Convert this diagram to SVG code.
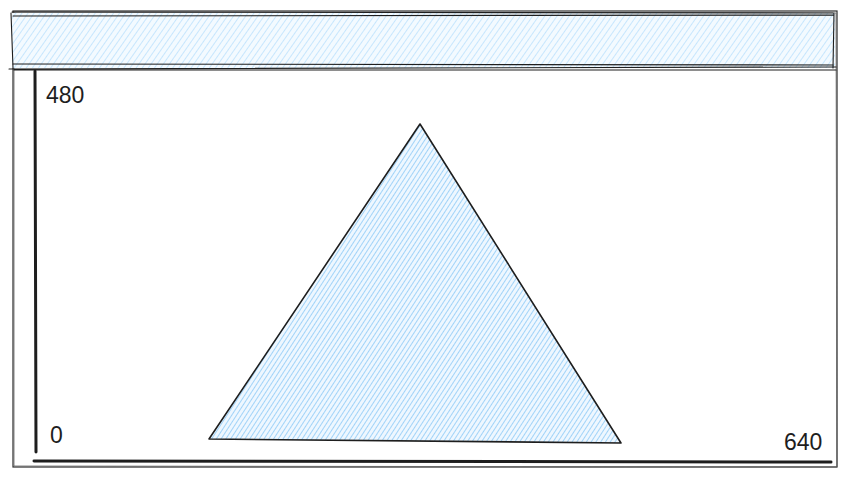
<svg xmlns="http://www.w3.org/2000/svg" width="854" height="480" viewBox="0 0 854 480">
<defs>
<pattern id="hatchA" patternUnits="userSpaceOnUse" width="5" height="5" patternTransform="rotate(35)">
<rect width="5" height="5" fill="#f3faff"/>
<line x1="0" y1="0" x2="0" y2="5" stroke="#b4defd" stroke-width="1.4"/>
</pattern>
<pattern id="hatchB" patternUnits="userSpaceOnUse" width="4" height="4" patternTransform="rotate(33)">
<rect width="4" height="4" fill="#eef7ff"/>
<line x1="0" y1="0" x2="0" y2="4" stroke="#98cff8" stroke-width="1.8"/>
</pattern>
<style>
.lbl{font-family:"Liberation Sans","DejaVu Sans",sans-serif;font-size:23px;fill:#1e1e1e}
.edge{fill:none;stroke:#1e1e1e;stroke-linecap:round}
</style>
</defs>
<rect width="854" height="480" fill="#ffffff"/>
<g id="window">
<rect x="13" y="11" width="824" height="456" fill="none" stroke="#2b2b2b" stroke-width="1.2"/>
<path d="M14 12 L836 13 L837 467 L14 466 Z" fill="none" stroke="#666" stroke-width="0.8"/>
</g>
<g id="header">
<rect x="12" y="13" width="823" height="55" fill="url(#hatchA)" stroke="none"/>
<path d="M12 12 L833 13 M13 16 L834 15 M11 13 L13 68 M834 13 L833 68" class="edge" stroke-width="1.1"/>
<path d="M9 69 L836 67 M13 64 L833 65 M14 70 L836 70" class="edge" stroke-width="1.1"/>
</g>
<g id="connectors">
<path d="M35 71 L36 452" class="edge" stroke-width="3"/>
<path d="M34 461 L831 462" class="edge" stroke-width="3"/>
</g>
<g id="triangle">
<path d="M420 124 L621 443 L209 439 Z" fill="url(#hatchB)" stroke="#1e1e1e" stroke-width="1.6" stroke-linejoin="round"/>
</g>
<g id="labels">
<text class="lbl" x="46" y="103">480</text>
<text class="lbl" x="50" y="443">0</text>
<text class="lbl" x="784" y="450">640</text>
</g>
</svg>
